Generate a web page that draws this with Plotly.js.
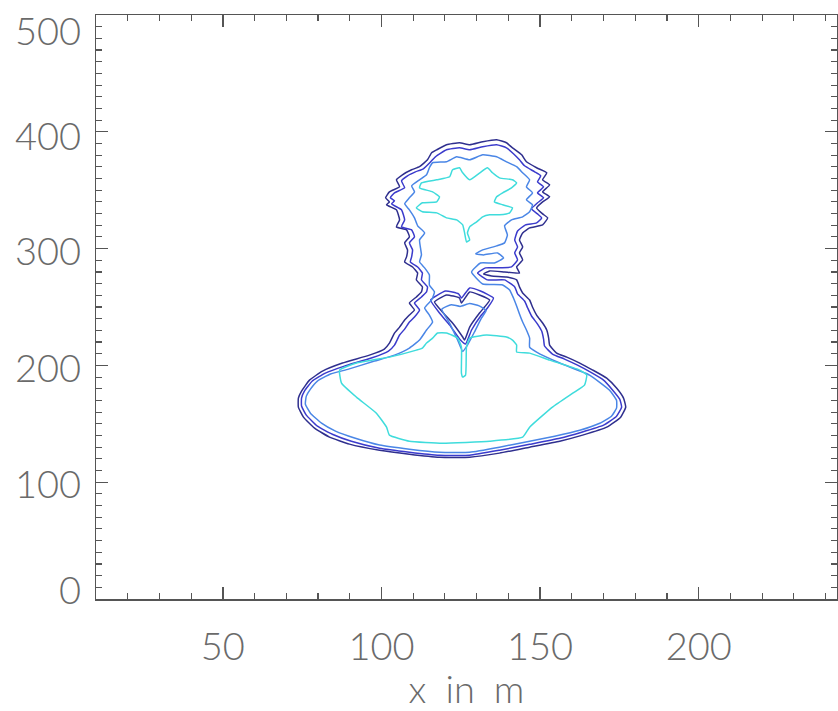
<!DOCTYPE html>
<html>
<head>
<meta charset="utf-8">
<script src="https://cdn.plot.ly/plotly-3.0.1.min.js"></script>
<style>
  html, body { margin: 0; padding: 0; background: #ffffff; }
  #plot { width: 838px; height: 711px; }
</style>
</head>
<body>
<div id="plot"></div>
<script>
// Iso-lines of the plume field (x, height in m), four levels from outermost to innermost.

// Level 1: outer envelope (ellipse base + rising column)
const lvl1X = [115.8,117.4,120.5,124.6,127.8,131.9,136.3,139.4,141.3,144.2,145.7,148.9,152.1,150.8,153.0,150.8,153.0,150.8,148.9,150.8,152.4,150.8,146.7,144.5,143.5,144.5,143.5,144.5,142.6,143.5,138.8,134.1,132.2,134.7,139.4,142.6,143.5,144.5,146.7,147.6,148.9,150.8,152.1,152.7,153.0,155.2,158.4,162.5,166.6,171.0,174.1,176.3,177.0,175.4,171.0,163.4,156.2,146.7,137.2,127.8,118.3,108.8,99.4,89.9,83.6,78.9,75.4,73.8,73.8,74.8,77.3,81.4,87.7,96.2,100.9,102.5,104.1,105.7,107.3,108.8,110.4,108.8,111.0,112.6,112.9,111.0,111.4,109.8,107.3,107.9,108.2,107.3,108.8,107.9,104.7,105.7,104.7,101.6,102.5,101.3,102.5,105.7,104.7,106.6,109.5,112.0,114.5];
const lvl1Y = [382.1,384.6,388.9,390.6,388.9,391.5,393.2,390.6,386.3,380.3,374.3,369.2,364.9,358.9,354.6,348.6,344.3,340.0,334.8,329.7,326.3,320.3,317.7,313.4,307.4,301.4,296.3,290.3,284.3,279.1,280.0,280.9,278.3,276.6,275.7,273.2,267.2,262.0,256.0,250.0,243.1,236.3,230.3,223.4,217.4,210.5,207.1,202.0,196.0,189.1,180.6,172.0,164.3,155.7,147.1,140.3,135.1,130.0,124.9,121.4,121.4,124.0,127.4,132.6,138.6,146.3,155.7,164.3,172.0,178.0,187.4,195.1,202.0,208.8,214.0,219.1,227.7,232.8,238.8,243.1,247.4,253.4,258.6,262.9,267.2,273.2,279.1,284.3,288.6,292.9,298.9,304.9,310.1,316.0,318.6,324.6,333.2,337.5,340.0,343.5,348.6,352.9,358.9,363.2,367.5,370.1,376.0];
// Level 1: enclosed low pocket in the neck
const lvl1HoleX = [116.7,120.5,124.6,125.2,127.8,130.9,134.1,132.5,130.9,127.8,126.2,125.6,122.4,119.2];
const lvl1HoleY = [254.3,260.3,257.7,253.4,262.9,260.3,256.0,250.0,244.8,232.8,221.7,224.3,236.3,245.7];

// Level 2
const lvl2X = [117.0,120.5,124.6,127.8,131.9,136.3,139.4,141.6,143.5,145.1,148.3,150.2,149.2,151.1,149.2,151.1,149.2,147.3,149.2,150.5,148.9,145.4,142.9,142.0,142.9,142.0,142.9,141.0,136.6,132.8,130.3,133.4,138.8,142.0,142.9,145.1,146.1,147.3,149.2,150.5,151.1,151.4,153.9,157.7,161.8,165.9,170.0,172.9,175.1,175.7,174.1,170.0,163.1,156.2,146.7,137.2,127.8,118.3,108.8,99.4,90.5,84.5,79.8,76.3,74.8,74.8,75.7,78.2,82.3,88.3,96.8,102.2,104.1,105.7,107.3,108.8,110.4,112.0,110.4,112.6,114.2,114.5,112.6,112.9,111.4,109.1,109.5,109.8,108.8,110.4,109.5,106.3,107.3,106.3,103.2,104.1,102.8,104.1,107.3,106.3,108.2,110.7,113.2,115.5];
const lvl2Y = [378.6,384.6,386.3,384.6,387.2,388.9,386.3,381.2,376.0,370.9,365.7,362.3,357.2,352.9,347.7,343.5,339.2,334.0,329.7,326.3,322.0,320.3,315.1,307.4,301.4,296.3,290.3,284.3,283.5,283.5,279.1,273.2,273.2,267.2,261.2,255.1,249.1,242.3,235.4,229.4,222.5,216.6,209.7,205.4,200.2,194.2,187.4,178.8,171.1,164.3,156.5,148.8,142.8,137.6,132.4,127.4,123.1,123.1,125.7,129.1,135.1,141.1,148.0,157.4,165.2,172.0,178.0,186.6,193.4,199.4,206.3,212.3,217.4,226.0,231.1,237.1,241.4,247.4,253.4,258.6,262.9,267.2,273.2,279.1,284.3,288.6,292.9,298.9,304.9,310.1,316.0,318.6,324.6,333.2,338.3,340.9,343.5,347.7,352.0,358.0,362.3,365.7,368.3,374.3];
const lvl2HoleX = [115.5,120.2,124.3,125.2,127.8,131.2,135.3,133.4,131.5,128.4,126.5,124.9,121.5,118.3];
const lvl2HoleY = [256.0,263.7,261.2,257.7,266.3,263.7,257.7,249.1,243.1,230.3,218.3,221.7,234.5,244.8];

// Level 3
const lvl3X = [116.1,120.5,123.7,127.8,131.9,136.3,139.4,142.6,144.5,146.7,145.7,147.6,145.7,147.6,146.7,144.5,141.0,138.8,139.7,138.8,136.3,131.9,129.7,132.2,136.6,138.5,135.6,131.2,128.4,131.9,138.2,140.4,141.6,142.6,143.5,144.5,145.7,146.7,146.7,148.9,156.2,165.6,171.9,174.1,174.1,172.5,168.8,162.5,154.6,146.7,137.2,127.8,118.3,108.8,99.4,91.5,85.5,81.1,77.6,76.0,76.3,77.6,79.8,83.9,89.6,97.8,104.1,108.8,112.0,114.2,116.1,115.1,113.6,115.8,116.7,115.1,115.1,113.6,112.0,112.6,112.3,112.0,113.6,111.4,110.4,108.8,107.3,108.8,110.4,109.5,112.0,114.2,115.1];
const lvl3Y = [373.5,374.4,378.6,376.0,380.3,378.6,374.3,370.1,364.9,358.9,352.9,347.7,341.8,337.5,331.5,327.2,324.6,319.5,311.7,304.9,302.3,298.9,295.5,294.6,296.3,292.0,287.7,287.7,280.0,269.7,268.9,264.6,257.7,250.9,244.0,237.1,230.3,223.4,215.7,211.4,202.0,191.7,178.8,170.2,163.4,156.5,150.5,144.5,139.4,135.1,130.0,125.7,125.7,128.3,131.8,137.8,143.7,150.5,159.1,166.8,173.7,179.7,186.6,192.6,196.8,203.7,208.8,214.8,221.7,230.3,237.1,243.1,249.1,256.0,262.9,268.9,277.4,283.5,288.6,294.6,300.6,307.4,313.4,319.5,326.3,333.2,338.3,343.5,348.6,353.7,358.9,363.2,369.2];
const lvl3HoleX = [119.0,122.0,124.8,127.8,130.8,133.0,131.5,129.3,127.1,125.6,124.0,121.5];
const lvl3HoleY = [248.0,252.0,250.5,253.0,251.0,247.0,240.5,228.6,217.4,212.0,221.7,236.0];

// Level 4 (innermost): base core with its narrow notch, and the head core
const lvl4BaseX = [86.8,92.1,102.5,111.0,112.9,114.2,116.1,117.7,120.5,124.0,125.2,125.2,125.6,126.5,126.8,127.8,133.1,139.4,141.3,142.6,142.6,146.7,153.0,162.5,164.7,164.0,160.3,153.9,146.7,144.5,134.1,119.2,108.8,102.5,101.6,98.4,92.1,87.4];
const lvl4BaseY = [196.0,202.0,207.1,213.1,214.8,219.1,223.4,227.7,227.7,223.4,215.7,193.4,190.0,191.7,215.7,223.4,226.0,224.3,221.7,217.4,211.4,210.5,204.5,196.0,191.7,183.1,176.2,164.3,147.1,138.5,135.1,133.4,135.1,140.3,147.1,159.1,172.8,184.8];
const lvl4HeadX = [122.4,124.6,125.6,127.8,131.0,133.4,135.0,137.2,141.3,142.6,141.0,138.2,136.3,135.6,138.2,141.3,140.4,137.2,134.1,131.9,130.0,127.8,127.1,127.8,126.8,126.2,125.6,123.7,120.5,117.4,112.9,111.0,112.9,117.4,118.3,116.1,112.0,112.6,117.4,121.5];
const lvl4HeadY = [367.5,369.2,364.9,358.9,364.9,369.2,364.9,360.6,358.9,356.3,352.0,347.7,344.3,340.0,337.5,334.9,330.6,328.9,328.9,327.2,322.9,318.6,313.4,307.4,305.7,313.4,320.3,324.6,326.3,330.6,331.5,334.9,339.2,340.0,344.3,348.6,352.0,356.3,358.9,361.5];

const xTicks = [50, 100, 150, 200];
const yTicks = [0, 100, 200, 300, 400, 500];
const xTitle = 'x\u2002in\u2002m';

const levelColors = ['#2f2f8e', '#3b3bcc', '#4a86e6', '#3fdcdc'];

function loop(xs, ys, color) {
  return {
    type: 'scatter', mode: 'lines',
    x: xs.concat([xs[0]]), y: ys.concat([ys[0]]),
    line: { color: color, width: 1.5, shape: 'spline', smoothing: 0.4 },
    hoverinfo: 'skip', showlegend: false
  };
}

const traces = [
  loop(lvl1X, lvl1Y, levelColors[0]),
  loop(lvl1HoleX, lvl1HoleY, levelColors[0]),
  loop(lvl2X, lvl2Y, levelColors[1]),
  loop(lvl2HoleX, lvl2HoleY, levelColors[1]),
  loop(lvl3X, lvl3Y, levelColors[2]),
  loop(lvl3HoleX, lvl3HoleY, levelColors[2]),
  loop(lvl4BaseX, lvl4BaseY, levelColors[3]),
  loop(lvl4HeadX, lvl4HeadY, levelColors[3])
];

const axisFont = { family: 'Lato, "DejaVu Sans", sans-serif', size: 38, color: '#6a6a6a', weight: 300 };

// y labels sit just left of the frame; the end labels are pulled inside the frame height
const yLabelShift = { 0: 10, 100: -1, 200: -2, 300: -1, 400: -3, 500: -15 };
const yLabels = yTicks.map(v => ({
  xref: 'paper', yref: 'y', x: 0, y: v, xanchor: 'right', yanchor: 'middle',
  xshift: -13, yshift: yLabelShift[v], text: String(v), showarrow: false, font: axisFont
}));

const layout = {
  width: 838, height: 711,
  margin: { l: 96, r: 1, t: 15, b: 112 },
  paper_bgcolor: '#ffffff', plot_bgcolor: '#ffffff',
  showlegend: false,
  annotations: yLabels,
  xaxis: {
    range: [10, 243.6],
    tickmode: 'array', tickvals: xTicks, ticktext: xTicks.map(String),
    ticks: 'inside', ticklen: 12, tickwidth: 1.3, tickcolor: '#555555',
    minor: { dtick: 10, tick0: 0, ticks: 'inside', ticklen: 6, tickwidth: 1.1, tickcolor: '#555555', showgrid: false },
    showline: true, linecolor: '#555555', linewidth: 1.5, mirror: 'allticks',
    showgrid: false, zeroline: false,
    tickfont: axisFont, ticklabelstandoff: 14,
    title: { text: xTitle, font: axisFont, standoff: 12 }
  },
  yaxis: {
    range: [0, 500],
    tickmode: 'array', tickvals: yTicks,
    showticklabels: false,
    ticks: 'inside', ticklen: 12, tickwidth: 1.3, tickcolor: '#555555',
    minor: { dtick: 10, tick0: 0, ticks: 'inside', ticklen: 6, tickwidth: 1.1, tickcolor: '#555555', showgrid: false },
    showline: true, linecolor: '#555555', linewidth: 1.5, mirror: 'allticks',
    showgrid: false, zeroline: false
  }
};

Plotly.newPlot('plot', traces, layout, { displayModeBar: false, staticPlot: true });
</script>
</body>
</html>
